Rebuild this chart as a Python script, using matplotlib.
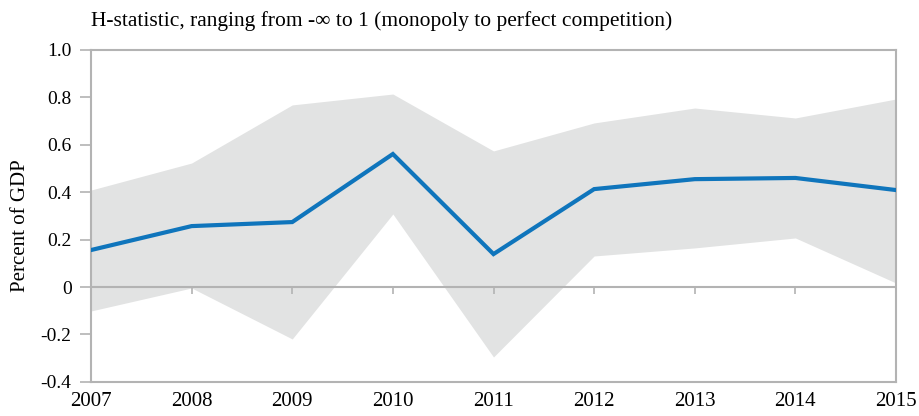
import matplotlib
matplotlib.use("Agg")
import matplotlib.pyplot as plt

plt.rcParams["font.family"] = ["Liberation Serif", "DejaVu Serif"]

# values
years = [2007, 2008, 2009, 2010, 2011, 2012, 2013, 2014, 2015]
h_stat = [0.156, 0.257, 0.274, 0.561, 0.139, 0.413, 0.455, 0.460, 0.409]
upper = [0.409, 0.523, 0.768, 0.814, 0.574, 0.692, 0.755, 0.713, 0.793]
lower = [-0.101, -0.004, -0.219, 0.308, -0.295, 0.131, 0.165, 0.207, 0.017]

yticks = [-0.4, -0.2, 0, 0.2, 0.4, 0.6, 0.8, 1.0]
ytick_labels = ["-0.4", "-0.2", "0", "0.2", "0.4", "0.6", "0.8", "1.0"]

FRAME = "#b3b3b3"
BAND = "#e2e3e3"
LINE = "#0f75bc"

fig = plt.figure(figsize=(9.19, 4.16), dpi=100)
ax = fig.add_axes([0.099, 0.082, 0.876, 0.798])

ax.fill_between(years, lower, upper, color=BAND, lw=0, zorder=1)
ax.axhline(0, color=FRAME, lw=1.5, zorder=2)
ax.vlines(years, -0.03, 0, color=FRAME, lw=1.2, zorder=2)
ax.plot(years, h_stat, color=LINE, lw=3, zorder=3, solid_joinstyle="miter")

ax.set_xlim(years[0], years[-1])
ax.set_ylim(-0.4, 1.0)
ax.set_yticks(yticks)
ax.set_yticklabels(ytick_labels)
ax.set_xticks(years)
ax.set_xticklabels([str(y) for y in years])
ax.tick_params(axis="y", length=8, width=1.2, color=FRAME, labelsize=14, pad=6)
ax.tick_params(axis="x", length=0, labelsize=15, pad=7)

for s in ax.spines.values():
    s.set_color(FRAME)
    s.set_linewidth(1.5)

ax.set_ylabel("Percent of GDP", fontsize=15)
ax.yaxis.set_label_coords(-0.076, 0.47)
ax.set_title("H-statistic, ranging from -\u221e to 1 (monopoly to perfect competition)",
             loc="left", fontsize=15.5, pad=17)

fig.savefig("out.png", dpi=100)
